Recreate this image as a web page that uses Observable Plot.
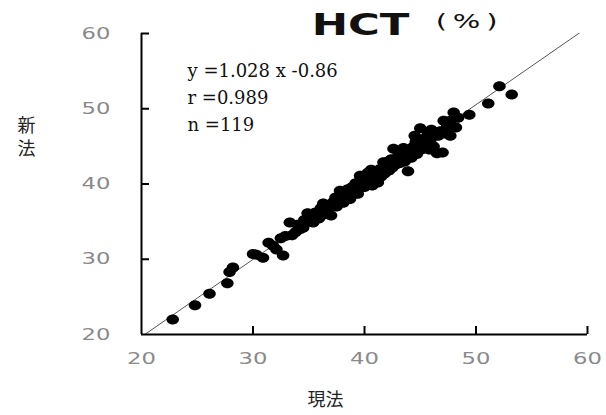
<!DOCTYPE html>
<html>
<head>
<meta charset="utf-8">
<script src="https://cdn.jsdelivr.net/npm/d3@7"></script>
<script src="https://cdn.jsdelivr.net/npm/@observablehq/plot@0.6"></script>
<style>
  html, body { margin: 0; padding: 0; background: #fff; }
  #chart { width: 606px; height: 415px; }
</style>
</head>
<body>
<div id="chart"></div>
<script>
// 現法 (x) values
const currentMethod = [
  22.8, 24.8, 26.1, 27.7, 27.9, 28.2, 30.0, 30.3, 30.9, 31.4,
  31.8, 32.1, 32.7, 32.5, 32.9, 33.3, 33.8, 34.2, 34.5, 34.9,
  34.6, 35.0, 35.3, 35.6, 35.9, 36.1, 36.3, 36.5, 36.8, 37.0,
  37.2, 37.4, 37.5, 37.8, 37.9, 38.1, 38.3, 38.5, 38.7, 38.9,
  39.1, 39.4, 39.6, 39.8, 40.0, 40.1, 40.3, 40.5, 40.6, 40.8,
  41.0, 41.2, 41.4, 41.7, 41.8, 42.0, 42.2, 42.4, 42.6, 42.8,
  43.0, 43.2, 43.4, 43.6, 43.9, 44.0, 44.2, 44.4, 44.5, 44.7,
  44.8, 45.0, 45.1, 45.3, 45.5, 45.7, 45.9, 46.0, 46.2, 46.5,
  46.6, 46.8, 47.0, 47.1, 47.1, 47.4, 47.7, 47.7, 48.0, 48.2,
  48.4, 49.4, 51.1, 52.1, 53.2, 36.0, 37.6, 38.2, 38.8, 39.2,
  39.5, 40.2, 40.7, 41.1, 41.5, 42.1, 42.5, 43.1, 43.5, 44.1,
  44.6, 45.2, 45.8, 46.3, 34.0, 35.4, 36.7, 33.5, 39.9
];
// 新法 (y) values
const newMethod = [
  22.0, 23.9, 25.4, 26.8, 28.3, 28.9, 30.7, 30.6, 30.2, 32.2,
  31.8, 31.3, 30.5, 32.8, 33.1, 34.9, 33.6, 34.0, 34.2, 36.1,
  35.2, 35.0, 35.8, 36.2, 35.4, 36.8, 37.4, 36.0, 37.0, 35.8,
  37.6, 38.2, 37.0, 39.1, 38.0, 37.5, 38.6, 39.3, 38.0, 39.6,
  39.0, 38.7, 41.1, 40.2, 39.6, 40.8, 41.5, 40.0, 41.9, 40.6,
  41.2, 40.2, 42.0, 42.9, 41.4, 42.5, 41.8, 43.3, 44.7, 42.6,
  43.6, 42.8, 44.2, 43.0, 41.7, 44.6, 43.5, 45.0, 46.4, 44.0,
  45.4, 47.4, 44.6, 46.0, 45.2, 46.8, 45.8, 47.2, 45.0, 44.1,
  46.4, 47.0, 44.2, 46.7, 48.4, 47.6, 48.4, 46.4, 49.5, 47.5,
  48.8, 49.2, 50.7, 53.0, 51.9, 35.6, 37.9, 39.0, 38.4, 40.1,
  39.4, 41.0, 39.8, 41.7, 41.0, 43.0, 42.2, 44.0, 44.8, 44.2,
  45.6, 45.8, 44.6, 46.6, 34.6, 34.9, 36.6, 33.2, 40.6
];
const axisDomain = [20, 60];
const tickValues = [20, 30, 40, 50, 60];
const tickMarks = [30, 40, 50, 60];
const fitSlope = 1.028;
const fitIntercept = -0.86;
const fitXRange = [20, 60];
const titleMain = "HCT";
const titleUnit = "(%)";
const statLines = ["y =1.028 x -0.86", "r =0.989", "n =119"];
const xLabel = "現法";
const yLabel = "新法";

const points = currentMethod.map((x, i) => ({x, y: newMethod[i]}));
const fitLine = fitXRange.map(x => ({x, y: fitSlope * x + fitIntercept}));

const ellipse = {
  draw(ctx, size) {
    const r = Math.sqrt(size / Math.PI);
    const rx = r * 1.25, ry = r, k = 0.5523;
    ctx.moveTo(rx, 0);
    ctx.bezierCurveTo(rx, ry * k, rx * k, ry, 0, ry);
    ctx.bezierCurveTo(-rx * k, ry, -rx, ry * k, -rx, 0);
    ctx.bezierCurveTo(-rx, -ry * k, -rx * k, -ry, 0, -ry);
    ctx.bezierCurveTo(rx * k, -ry, rx, -ry * k, rx, 0);
    ctx.closePath();
  }
};

const tickFont = {fontFamily: "DejaVu Sans", fontSize: 16, fill: "#8a8a8a"};
const serif = "DejaVu Serif";

const svg = Plot.plot({
  width: 606,
  height: 415,
  marginTop: 33,
  marginBottom: 81,
  marginLeft: 141,
  marginRight: 19,
  style: {background: "#fff", overflow: "visible"},
  x: {domain: axisDomain},
  y: {domain: axisDomain},
  marks: [
    Plot.axisX(tickValues, {tickSize: 0, tickPadding: 18, label: null, ...tickFont}),
    Plot.axisY(tickValues, {tickSize: 0, tickPadding: 31, label: null, ...tickFont}),
    Plot.line(fitLine, {x: "x", y: "y", stroke: "#555", strokeWidth: 1, clip: true}),
    Plot.dot(points, {x: "x", y: "y", r: 5, symbol: ellipse, fill: "#000", stroke: "none"}),
    Plot.ruleX([axisDomain[0]], {stroke: "#000", strokeWidth: 2}),
    Plot.ruleY([axisDomain[0]], {stroke: "#000", strokeWidth: 2}),
    Plot.ruleX(tickMarks, {y1: axisDomain[0], y2: axisDomain[0], insetTop: -8, stroke: "#000", strokeWidth: 2}),
    Plot.ruleY(tickMarks, {x1: axisDomain[0], x2: axisDomain[0], insetRight: -8, stroke: "#000", strokeWidth: 2}),
    Plot.text([titleMain], {text: d => d, frameAnchor: "top", dx: -4, dy: -8, lineAnchor: "middle",
      fontFamily: "DejaVu Sans", fontWeight: "bold", fontSize: 31, fill: "#111"}),
    Plot.text([titleUnit], {text: d => d, frameAnchor: "top", dx: 105, dy: -12, lineAnchor: "middle",
      fontFamily: "DejaVu Sans", fontSize: 20, fill: "#111"}),
    ...statLines.map((s, i) => Plot.text([s], {text: d => d, frameAnchor: "top-left", textAnchor: "start",
      dx: 46, dy: 38.2 + i * 27, lineAnchor: "middle", fontFamily: serif, fontSize: 18, fill: "#111"})),
    Plot.text([xLabel], {text: d => d, frameAnchor: "bottom", dx: -39, dy: 66, lineAnchor: "middle",
      fontFamily: "Noto Sans CJK JP", fontSize: 18, fill: "#222"}),
    Plot.text([yLabel], {text: d => d, frameAnchor: "left", dx: -115, dy: -68,
      lineAnchor: "middle", fontFamily: "Noto Sans CJK JP", fontSize: 18, fill: "#222"})
  ]
});

function stretch(el, s) {
  const t = el.getAttribute("transform");
  if (t) {
    el.setAttribute("transform", t + ` scale(${s},1)`);
  } else {
    const x = +el.getAttribute("x") || 0;
    el.setAttribute("transform", `translate(${x},0) scale(${s},1) translate(${-x},0)`);
  }
}
svg.querySelectorAll('g[aria-label="x-axis tick label"] text, g[aria-label="y-axis tick label"] text')
  .forEach(t => stretch(t, 1.42));
svg.querySelectorAll("text").forEach(t => {
  if (t.textContent === titleMain) stretch(t, 1.4);
  if (t.textContent === titleUnit) { t.setAttribute("letter-spacing", "4"); stretch(t, 1.45); }
  if (t.textContent === yLabel) {
    t.removeAttribute("y");
    t.removeAttribute("dy");
    t.setAttribute("writing-mode", "vertical-rl");
    t.style.writingMode = "vertical-rl";
    t.setAttribute("letter-spacing", "5");
  }
});

document.getElementById("chart").appendChild(svg);
</script>
</body>
</html>
